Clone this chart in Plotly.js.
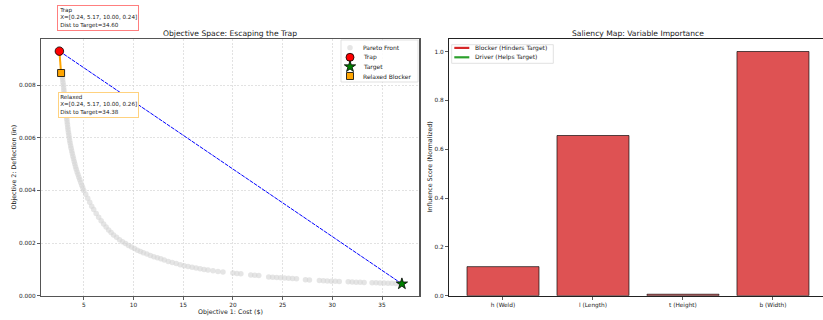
<!DOCTYPE html>
<html>
<head>
<meta charset="utf-8">
<script src="https://cdn.plot.ly/plotly-3.0.1.min.js"></script>
<style>html,body{margin:0;padding:0;background:#fff;}#chart{width:823px;height:320px;}</style>
</head>
<body>
<div id="chart"></div>
<script>
// ---------- DATA ----------
const paretoCost = [
  2.85,2.88,2.91,2.95,2.98,3.0,3.03,3.06,3.08,3.1,3.13,3.16,3.18,3.21,3.24,3.27,3.3,3.33,3.36,3.39,3.42,3.46,
  3.5,3.54,3.58,3.63,3.68,3.73,3.79,3.85,3.91,3.97,4.04,4.1,4.17,4.25,4.33,4.42,4.51,4.6,4.7,4.8,4.9,5.0,
  5.2,5.4,5.6,5.8,6.0,6.25,6.5,6.75,7.0,7.25,7.5,7.75,8.0,8.3,8.6,8.9,9.2,9.5,9.8,10.1,10.4,10.7,11.0,11.35,
  11.7,12.05,12.4,12.75,13.1,13.5,13.9,14.3,14.7,15.1,
  15.5,15.9,16.3,16.7,17.1,17.5,18.0,18.5,19.0,20.0,20.4,20.8,21.8,22.2,22.6,23.6,24.0,24.4,24.8,25.2,25.6,
  26.0,26.4,27.3,27.7,28.7,29.1,29.5,29.9,30.3,30.7,31.6,32.0,32.4,32.8,33.2,34.0,34.4,34.8,35.2,35.6,36.0,
  36.4,36.8];
const paretoDefl = [
  0.0083,0.0082,0.0081,0.0080,0.0079,0.0078,0.0077,0.0076,0.0075,0.0074,0.0073,0.0072,0.0071,0.0070,0.0069,
  0.0068,0.0067,0.0066,0.0065,0.0064,0.0063,0.0062,0.0061,0.0060,0.0059,0.0058,0.0057,0.0056,0.0055,0.0054,
  0.0053,0.0052,0.0051,0.0050,0.0049,0.0048,0.0047,0.0046,0.0045,0.0044,0.0043,0.0042,0.0041,0.0040,
  0.00385,0.0037,0.00355,0.0034,0.00327,0.00312,0.00298,0.00285,0.00272,0.00261,0.0025,0.0024,0.00231,
  0.00222,0.00213,0.00205,0.00198,0.00191,0.00185,0.00179,0.00173,0.00168,0.00163,0.00158,0.00153,0.00148,
  0.00144,0.0014,0.00136,0.0013,0.00126,0.00122,0.00118,0.00114,
  0.00111,0.00108,0.00105,0.00102,0.001,0.00098,0.00095,0.00092,0.0009,0.00086,0.00084,0.00083,0.00079,
  0.00078,0.00077,0.00071,0.0007,0.00069,0.00068,0.00067,0.00066,0.00065,0.00064,0.00061,0.0006,0.00058,
  0.00057,0.00056,0.00055,0.00055,0.00054,0.00053,0.00052,0.00051,0.00051,0.0005,0.00049,0.00049,0.00048,
  0.00048,0.00047,0.00047,0.00046,0.00046];

const trapPoint = [2.55, 0.00929];
const targetPoint = [37.0, 0.00045];
const relaxedPoint = [2.72, 0.00846];
const trapVars = ["0.24", "5.17", "10.00", "0.24"];
const relaxedVars = ["0.24", "5.17", "10.00", "0.26"];
const trapDist = "34.60";
const relaxedDist = "34.38";

const xTicksLeft = [5, 10, 15, 20, 25, 30, 35];
const variables = ["h (Weld)", "l (Length)", "t (Height)", "b (Width)"];
const influence = [0.119, 0.656, 0.006, 1.0];

const leftLegendNames = ["Pareto Front", "Trap", "Target", "Relaxed Blocker"];
const rightLegendNames = ["Blocker (Hinders Target)", "Driver (Helps Target)"];

// ---------- STYLE ----------
const FONT = "DejaVu Sans, Liberation Sans, sans-serif";
const W = 823, H = 320;
const L1 = 41.3, R1 = 419, L2 = 449, R2 = 823, TOP = 39.3, BOT = 295.7;
const GRAY = "rgba(211,211,211,0.6)";

const traces = [
  { type: "scatter", mode: "markers", x: paretoCost, y: paretoDefl, xaxis: "x", yaxis: "y",
    marker: { size: 5.5, color: GRAY, line: { width: 0 } }, hoverinfo: "skip" },
  { type: "scatter", mode: "lines", x: [trapPoint[0], targetPoint[0]], y: [trapPoint[1], targetPoint[1]],
    xaxis: "x", yaxis: "y", line: { color: "blue", width: 1, dash: "4px,1px" } },
  { type: "scatter", mode: "lines", x: [trapPoint[0], relaxedPoint[0]], y: [trapPoint[1], relaxedPoint[1]],
    xaxis: "x", yaxis: "y", line: { color: "orange", width: 2 } },
  { type: "scatter", mode: "markers", x: [trapPoint[0]], y: [trapPoint[1]], xaxis: "x", yaxis: "y",
    marker: { symbol: "circle", size: 8.5, color: "red", line: { color: "black", width: 0.8 } } },
  { type: "scatter", mode: "markers", x: [targetPoint[0]], y: [targetPoint[1]], xaxis: "x", yaxis: "y",
    marker: { symbol: "star", size: 8.5, color: "green", line: { color: "black", width: 0.8 } } },
  { type: "scatter", mode: "markers", x: [relaxedPoint[0]], y: [relaxedPoint[1]], xaxis: "x", yaxis: "y",
    marker: { symbol: "square", size: 7, color: "orange", line: { color: "black", width: 0.8 } } },
  { type: "bar", x: variables, y: influence, xaxis: "x2", yaxis: "y2", width: 0.8,
    marker: { color: "rgba(214,39,40,0.8)", line: { color: "rgba(0,0,0,0.65)", width: 1 } } }
];

// custom legends drawn on a pixel helper axis (x3/y3)
const legL = { x0: 341, x1: 418, y0: 40, y1: 82, mx: 350, tx: 361, ys: [47.7, 57.3, 66.7, 76] };
const legSyms = [
  { symbol: "circle", size: 5.5, color: GRAY, line: { width: 0 } },
  { symbol: "circle", size: 8, color: "red", line: { color: "black", width: 0.8 } },
  { symbol: "star", size: 8.5, color: "green", line: { color: "black", width: 0.8 } },
  { symbol: "square", size: 7, color: "orange", line: { color: "black", width: 0.8 } }
];
legSyms.forEach((m, i) => traces.push({ type: "scatter", mode: "markers", x: [legL.mx], y: [legL.ys[i]],
  xaxis: "x3", yaxis: "y3", marker: m, hoverinfo: "skip" }));
const legR = { x0: 451.7, x1: 553.3, y0: 44.7, y1: 63.3, lx0: 454.3, lx1: 469.3, tx: 473, ys: [47.9, 57.3] };
const legRColors = ["#d62728", "#2ca02c"];
legRColors.forEach((c, i) => traces.push({ type: "scatter", mode: "lines", x: [legR.lx0, legR.lx1],
  y: [legR.ys[i], legR.ys[i]], xaxis: "x3", yaxis: "y3", line: { color: c, width: 2.2 }, hoverinfo: "skip" }));

const annotations = [];
const txt = (text, x, y, size, extra) => Object.assign({ text, x, y, xref: "x3", yref: "y3", showarrow: false,
  font: { family: FONT, size, color: "#1a1a1a" } }, extra || {});

annotations.push(txt("Objective Space: Escaping the Trap", (L1 + R1) / 2, 33, 7.6, { xanchor: "center", yanchor: "middle" }));
annotations.push(txt("Saliency Map: Variable Importance", (L2 + R2 + 4) / 2, 33, 7.6, { xanchor: "center", yanchor: "middle" }));
annotations.push(txt("Objective 1: Cost ($)", (L1 + R1) / 2, 312, 6.3, { xanchor: "center", yanchor: "middle" }));
annotations.push(txt("Objective 2: Deflection (in)", 13, (TOP + BOT) / 2, 6.3, { xanchor: "center", yanchor: "middle", textangle: -90 }));
annotations.push(txt("Influence Score (Normalized)", 429, (TOP + BOT) / 2, 6.3, { xanchor: "center", yanchor: "middle", textangle: -90 }));

annotations.push(txt("Trap<br>X=[" + trapVars.join(", ") + "]<br>Dist to Target=" + trapDist, 57, 5, 5.6,
  { xanchor: "left", yanchor: "top", align: "left", bgcolor: "white", bordercolor: "#ff7f7f", borderwidth: 1, borderpad: 1.2 }));
annotations.push(txt("Relaxed<br>X=[" + relaxedVars.join(", ") + "]<br>Dist to Target=" + relaxedDist, 58, 92, 5.6,
  { xanchor: "left", yanchor: "top", align: "left", bgcolor: "white", bordercolor: "#ffd27f", borderwidth: 1, borderpad: 1.2 }));

leftLegendNames.forEach((n, i) => annotations.push(txt(n, legL.tx, legL.ys[i], 6, { xanchor: "left", yanchor: "middle" })));
rightLegendNames.forEach((n, i) => annotations.push(txt(n, legR.tx, legR.ys[i], 6, { xanchor: "left", yanchor: "middle" })));

const shapes = [
  { type: "rect", xref: "x3", yref: "y3", x0: legL.x0, x1: legL.x1, y0: legL.y0, y1: legL.y1, layer: "below",
    fillcolor: "rgba(255,255,255,0.85)", line: { color: "#d9d9d9", width: 0.8 } },
  { type: "rect", xref: "x3", yref: "y3", x0: legR.x0, x1: legR.x1, y0: legR.y0, y1: legR.y1, layer: "below",
    fillcolor: "rgba(255,255,255,0.85)", line: { color: "#d9d9d9", width: 0.8 } }
];

const yDom = [(H - BOT) / H, (H - TOP) / H];
const tickF = { family: FONT, size: 5.8, color: "#222" };
const common = { ticks: "outside", ticklen: 3, tickwidth: 0.8, tickcolor: "#333", tickfont: tickF, zeroline: false, fixedrange: true };

const layout = {
  width: W, height: H, margin: { l: 0, r: 0, t: 0, b: 0, pad: 0 },
  paper_bgcolor: "white", plot_bgcolor: "rgba(0,0,0,0)", showlegend: false,
  font: { family: FONT, color: "#222" },
  xaxis: Object.assign({}, common, { domain: [L1 / W, R1 / W], range: [0.73, 38.72], tickvals: xTicksLeft,
    showgrid: true, gridcolor: "#cfcfcf", gridwidth: 0.6, griddash: "2px,1.5px",
    showline: true, linecolor: "#555", linewidth: 1.5, mirror: true, anchor: "y" }),
  yaxis: Object.assign({}, common, { domain: yDom, range: [0, 0.00974], dtick: 0.002, tickformat: ".3f",
    showgrid: true, gridcolor: "#cfcfcf", gridwidth: 0.6, griddash: "2px,1.5px",
    showline: true, linecolor: "#555", linewidth: 1.5, mirror: true, anchor: "x" }),
  xaxis2: Object.assign({}, common, { domain: [L2 / W, 1], type: "category", range: [-0.6, 3.556],
    showgrid: false, showline: true, linecolor: "#222", linewidth: 1, mirror: true, anchor: "y2" }),
  yaxis2: Object.assign({}, common, { domain: yDom, range: [0, 1.05], dtick: 0.2, tickformat: ".1f",
    showgrid: false, showline: true, linecolor: "#222", linewidth: 1, mirror: false, anchor: "x2" }),
  xaxis3: { domain: [0, 1], range: [0, W], visible: false, fixedrange: true, anchor: "y3" },
  yaxis3: { domain: [0, 1], range: [H, 0], visible: false, fixedrange: true, anchor: "x3" },
  annotations, shapes
};

Plotly.newPlot("chart", traces, layout, { staticPlot: true, displayModeBar: false });
</script>
</body>
</html>
